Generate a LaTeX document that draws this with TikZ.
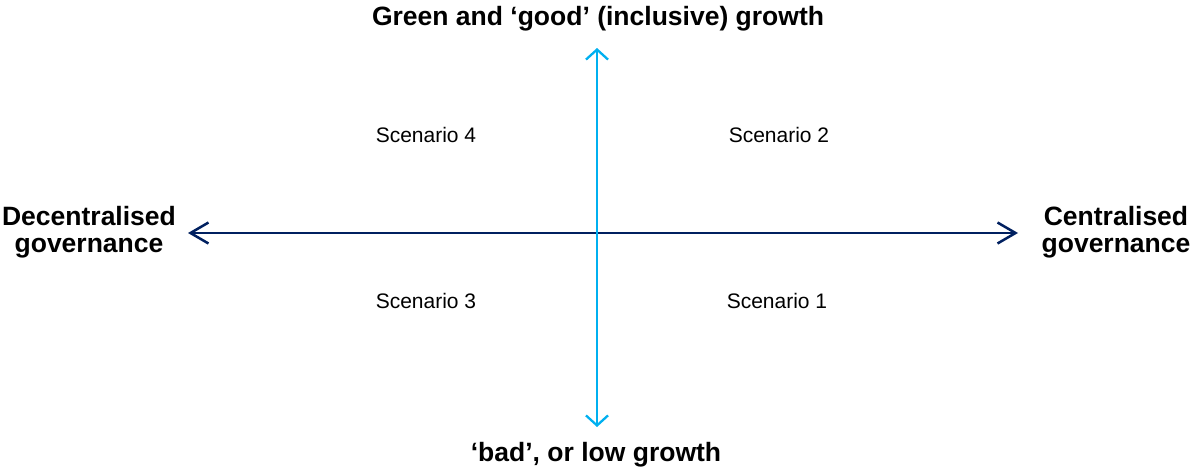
\documentclass[tikz,border=0pt]{standalone}
\usepackage{fontspec}
\setmainfont{Liberation Sans}
\usetikzlibrary{arrows.meta}
\definecolor{navy}{HTML}{002060}
\definecolor{skyblue}{HTML}{00B0F0}
\begin{document}
\begin{tikzpicture}[x=1pt,y=-1pt,
  axislabel/.style={font=\fontsize{26.5}{27.5}\selectfont\bfseries, align=center, inner sep=0pt, text=black},
  scen/.style={font=\fontsize{21}{24}\selectfont, inner sep=0pt, anchor=base, text=black},
  harrow/.style={draw=navy, line width=2.5pt, {Straight Barb[length=18pt,width=21pt,line width=2.5pt]}-{Straight Barb[length=18pt,width=21pt,line width=2.5pt]}},
  varrow/.style={draw=skyblue, line width=2.3pt, {Straight Barb[length=10pt,width=22pt,line width=2.3pt]}-{Straight Barb[length=10pt,width=22pt,line width=2.3pt]}}]
\useasboundingbox (0,0) rectangle (1200,474);
\fill[white] (0,0) rectangle (1200,474);
% axis end points
\coordinate (L) at (188,233);
\coordinate (R) at (1018,233);
\coordinate (T) at (597,48);
\coordinate (B) at (597,427);
\draw[harrow] (L) -- (R);
\draw[varrow] (B) -- (T);
% labels
\node[axislabel, anchor=base] (top) at (598,25) {Green and ‘good’ (inclusive) growth};
\node[axislabel, anchor=base] (bottom) at (596,461) {‘bad’, or low growth};
\node[axislabel, anchor=base] (left) at (89,252.5) {Decentralised\\governance};
\node[axislabel, anchor=base] (right) at (1116,252.5) {Centralised\\governance};
\node[scen] (s4) at (426,142) {Scenario 4};
\node[scen] (s2) at (779,142) {Scenario 2};
\node[scen] (s3) at (426,308) {Scenario 3};
\node[scen] (s1) at (777,308) {Scenario 1};
\end{tikzpicture}
\end{document}
